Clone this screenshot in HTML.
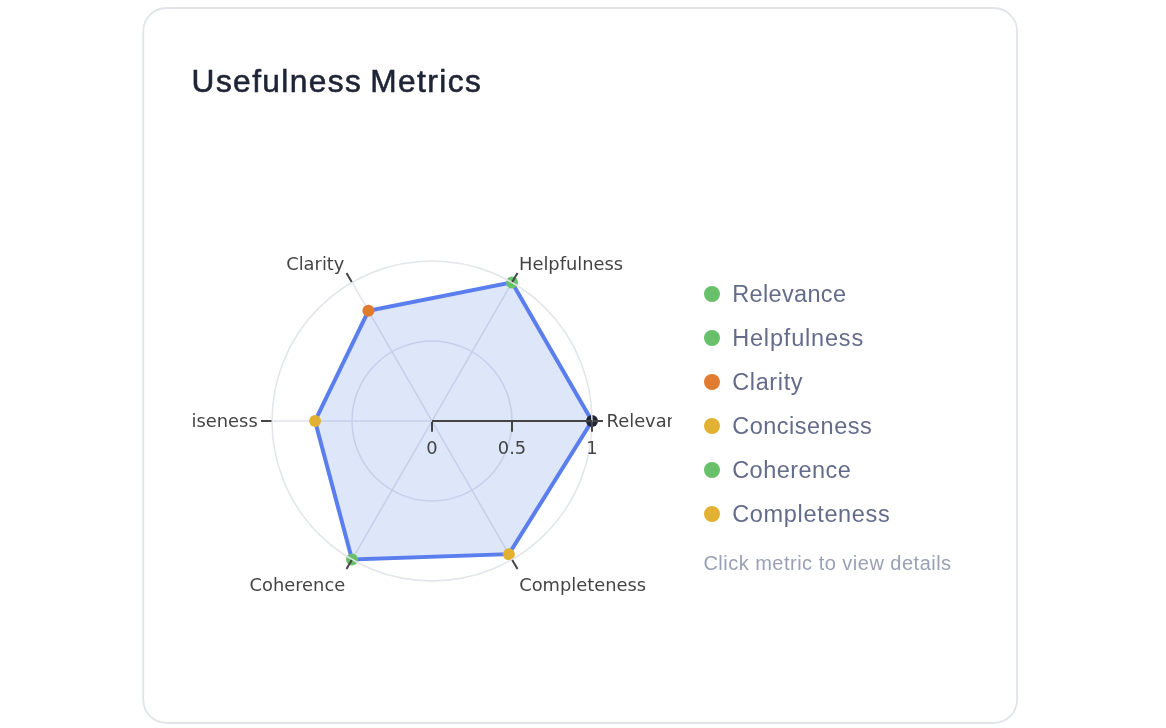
<!DOCTYPE html>
<html lang="en">
<head>
<meta charset="utf-8">
<title>Usefulness Metrics</title>
<style>
html,body{margin:0;padding:0;background:#ffffff;}
body{width:1166px;height:728px;position:relative;overflow:hidden;font-family:"Liberation Sans",sans-serif;}
h2{position:absolute;margin:0;left:191.6px;top:63.2px;font-size:31.7px;line-height:36px;font-weight:400;color:#1e2435;letter-spacing:1.4px;word-spacing:-2.3px;white-space:nowrap;-webkit-text-stroke:0.6px #1e2435;}
.chart{position:absolute;left:0;top:0;}
.li{position:absolute;left:704px;height:44px;display:flex;align-items:center;white-space:nowrap;}
.dot{display:inline-block;width:16px;height:16px;border-radius:50%;margin-right:12.2px;flex:none;}
.lt{font-size:23.5px;color:#656c8b;position:relative;top:0.5px;}
.hint{position:absolute;left:703.4px;top:551px;font-size:20px;line-height:24px;color:#9aa0b6;white-space:nowrap;letter-spacing:0.49px;}
</style>
</head>
<body>
<svg class="chart" width="1166" height="728" viewBox="0 0 1166 728">
<defs><clipPath id="plotclip"><rect x="192.4" y="225" width="479.6" height="400"/></clipPath></defs>
<rect x="143.25" y="8" width="873.8" height="715" rx="23.2" ry="23.2" fill="#ffffff" stroke="#e1e4e9" stroke-width="1.8"/>
<g clip-path="url(#plotclip)">
<g fill="none" stroke="#e2e3ec" stroke-width="1.5">
<circle cx="432.0" cy="421.0" r="80.0"/>
<line x1="432.0" y1="421.0" x2="592.00" y2="421.00"/>
<line x1="432.0" y1="421.0" x2="512.00" y2="282.44"/>
<line x1="432.0" y1="421.0" x2="352.00" y2="282.44"/>
<line x1="432.0" y1="421.0" x2="272.00" y2="421.00"/>
<line x1="432.0" y1="421.0" x2="352.00" y2="559.56"/>
<line x1="432.0" y1="421.0" x2="512.00" y2="559.56"/>
</g>
<polygon points="592.00,421.00 512.00,282.44 368.40,310.84 315.04,421.00 352.00,559.56 508.88,554.16" fill="#5880e6" fill-opacity="0.2" stroke="none"/>
<polygon points="592.00,421.00 512.00,282.44 368.40,310.84 315.04,421.00 352.00,559.56 508.88,554.16" fill="none" stroke="#5a7eee" stroke-width="4" stroke-linejoin="miter"/>
<circle cx="592.00" cy="421.00" r="6" fill="#1f2437"/>
<circle cx="512.00" cy="282.44" r="6" fill="#68c06b"/>
<circle cx="368.40" cy="310.84" r="6" fill="#e07b30"/>
<circle cx="315.04" cy="421.00" r="6" fill="#e2b134"/>
<circle cx="352.00" cy="559.56" r="6" fill="#68c06b"/>
<circle cx="508.88" cy="554.16" r="6" fill="#e2b134"/>
<circle cx="432.0" cy="421.0" r="160.0" fill="none" stroke="#e2e5e9" stroke-width="1.5"/>
<g stroke="#444444" stroke-width="2" fill="none">
<line x1="592.50" y1="421.00" x2="603.00" y2="421.00"/>
<line x1="512.25" y1="282.00" x2="517.50" y2="272.91"/>
<line x1="351.75" y1="282.00" x2="346.50" y2="272.91"/>
<line x1="271.50" y1="421.00" x2="261.00" y2="421.00"/>
<line x1="351.75" y1="560.00" x2="346.50" y2="569.09"/>
<line x1="512.25" y1="560.00" x2="517.50" y2="569.09"/>
<line x1="432.0" y1="421.0" x2="592.0" y2="421.0"/>
<line x1="432.00" y1="422.00" x2="432.00" y2="431.80"/>
<line x1="512.00" y1="422.00" x2="512.00" y2="431.80"/>
<line x1="592.00" y1="422.00" x2="592.00" y2="431.80"/>
</g>
<g font-family="'DejaVu Sans', 'Liberation Sans', sans-serif" font-size="17.85" fill="#444444">
<text x="606.60" y="426.50" text-anchor="start">Relevance</text>
<text x="519.00" y="269.60" text-anchor="start">Helpfulness</text>
<text x="344.40" y="269.60" text-anchor="end">Clarity</text>
<text x="257.70" y="426.50" text-anchor="end">Conciseness</text>
<text x="345.20" y="590.50" text-anchor="end">Coherence</text>
<text x="519.20" y="590.50" text-anchor="start">Completeness</text>
<text x="432.00" y="453.60" text-anchor="middle">0</text>
<text x="512.00" y="453.60" text-anchor="middle">0.5</text>
<text x="592.00" y="453.60" text-anchor="middle">1</text>
</g>
</g>
</svg>
<h2>Usefulness Metrics</h2>
<div class="li" style="top:272px"><span class="dot" style="background:#68c06b"></span><span class="lt" style="letter-spacing:0.350px">Relevance</span></div>
<div class="li" style="top:316px"><span class="dot" style="background:#68c06b"></span><span class="lt" style="letter-spacing:0.820px">Helpfulness</span></div>
<div class="li" style="top:360px"><span class="dot" style="background:#e07b30"></span><span class="lt" style="letter-spacing:0.630px">Clarity</span></div>
<div class="li" style="top:404px"><span class="dot" style="background:#e2b134"></span><span class="lt" style="letter-spacing:0.500px">Conciseness</span></div>
<div class="li" style="top:448px"><span class="dot" style="background:#68c06b"></span><span class="lt" style="letter-spacing:0.450px">Coherence</span></div>
<div class="li" style="top:492px"><span class="dot" style="background:#e2b134"></span><span class="lt" style="letter-spacing:0.670px">Completeness</span></div>
<div class="hint">Click metric to view details</div>
</body>
</html>
